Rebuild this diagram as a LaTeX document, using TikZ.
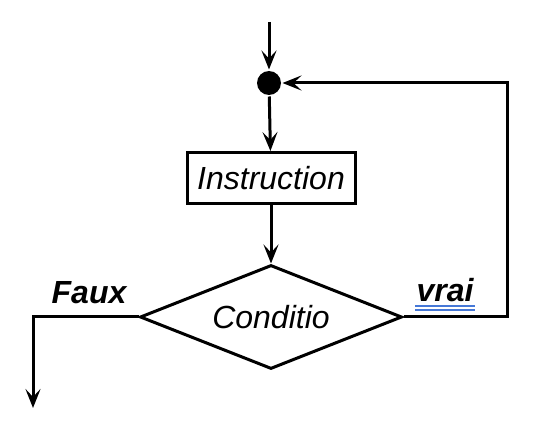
\documentclass[tikz,border=0pt]{standalone}
\usepackage{fontspec}
\setmainfont{Liberation Sans}
\usepackage{xcolor}
\usetikzlibrary{shapes.geometric, arrows.meta, positioning, calc}

\begin{document}
\begin{tikzpicture}[x=1pt, y=-1pt, line width=3pt,
    font=\fontsize{32}{36}\selectfont\itshape,
    arr/.style={-{Stealth[length=19pt, width=15pt, inset=8pt]}}]
  \useasboundingbox (0,0) rectangle (542,425);

  \node[circle, fill, inner sep=0pt, minimum size=24pt] (dot) at (269,83) {};
  \node[draw, rectangle, inner sep=0pt, minimum width=168pt, minimum height=51pt] (instr) at (271,178) {Instruction};
  \node[draw, diamond, aspect=2.5, inner sep=0pt, minimum width=262pt, minimum height=104pt] (cond) at (271,317) {Conditio};

  \node[font=\fontsize{32}{36}\selectfont\bfseries\itshape, inner sep=0pt, anchor=base] (faux) at (89,304) {Faux};
  \node[font=\fontsize{32}{36}\selectfont\bfseries\itshape, inner sep=0pt, anchor=base] (vrai) at (445,302) {vrai};
  \draw[line width=1.3pt, color={rgb,255:red,70;green,120;blue,215}] ([yshift=-4pt]vrai.base west) -- ([yshift=-4pt]vrai.base east);
  \draw[line width=1.3pt, color={rgb,255:red,70;green,120;blue,215}] ([yshift=-8pt]vrai.base west) -- ([yshift=-8pt]vrai.base east);

  \coordinate (start) at (269,22);
  \coordinate (out) at (33,408);
  \coordinate (loop) at (507,317);

  \draw[arr] (start) -- (dot);
  \draw[arr] (dot) -- (instr);
  \draw[arr] (instr) -- (cond);
  \draw[arr] (cond.west) -| (out);
  \draw[arr] (cond.east) -- (loop) |- (dot.east);
\end{tikzpicture}
\end{document}
